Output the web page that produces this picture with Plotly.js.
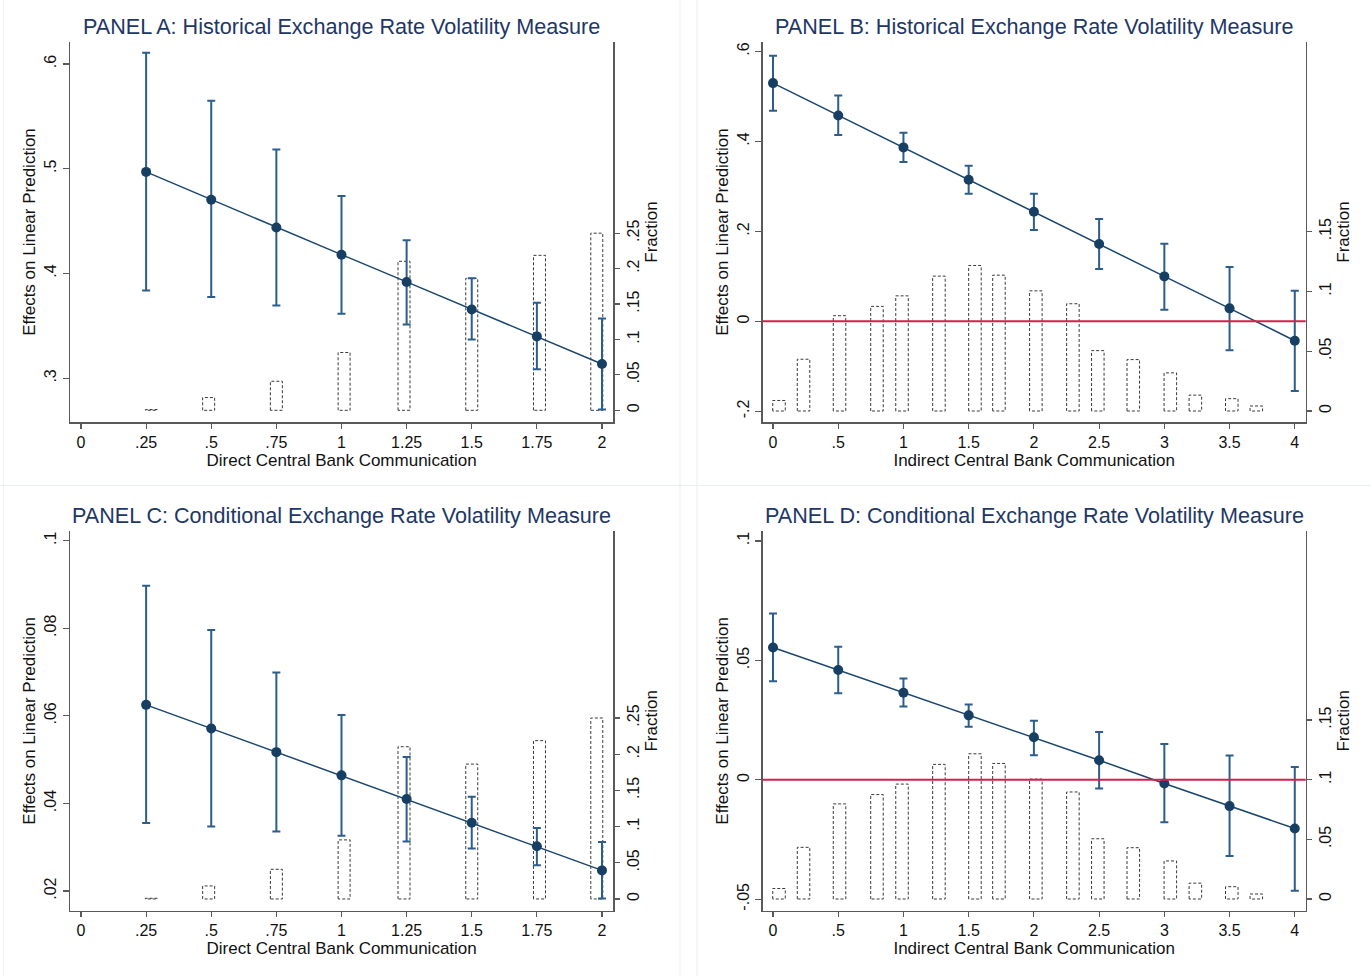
<!DOCTYPE html>
<html>
<head>
<meta charset="utf-8">
<script src="https://cdn.plot.ly/plotly-3.0.1.min.js"></script>
<style>html,body{margin:0;padding:0;background:#fff;}#chart{width:1371px;height:976px;}</style>
</head>
<body>
<div id="chart"></div>
<script>
// ---------- DATA ----------
// Direct central bank communication (Panels A & C)
const directX = [0.25, 0.5, 0.75, 1, 1.25, 1.5, 1.75, 2];
const panelA_effect = [0.497, 0.4705, 0.444, 0.418, 0.392, 0.3657, 0.340, 0.3137];
const panelA_lower  = [0.3838, 0.3775, 0.3695, 0.3616, 0.3514, 0.3371, 0.3086, 0.2702];
const panelA_upper  = [0.6108, 0.565, 0.5184, 0.474, 0.4317, 0.3956, 0.3721, 0.3571];
const panelC_effect = [0.0625, 0.0571, 0.0517, 0.0464, 0.041, 0.0356, 0.0302, 0.0247];
const panelC_lower  = [0.0355, 0.0347, 0.0336, 0.0326, 0.0313, 0.0297, 0.0259, 0.0183];
const panelC_upper  = [0.0897, 0.0796, 0.0699, 0.0602, 0.0506, 0.0415, 0.0344, 0.0312];
const directBins     = [0.27, 0.49, 0.75, 1.01, 1.24, 1.5, 1.76, 1.98];
const directFraction = [0.001, 0.018, 0.041, 0.0816, 0.2103, 0.1863, 0.2187, 0.25];

// Indirect central bank communication (Panels B & D)
const indirectX = [0, 0.5, 1, 1.5, 2, 2.5, 3, 3.5, 4];
const panelB_effect = [0.5296, 0.4578, 0.3867, 0.3147, 0.2436, 0.1718, 0.100, 0.0289, -0.043];
const panelB_lower  = [0.468, 0.414, 0.354, 0.2836, 0.2029, 0.1162, 0.0258, -0.0644, -0.1549];
const panelB_upper  = [0.5902, 0.5022, 0.419, 0.3458, 0.2836, 0.2273, 0.1724, 0.1207, 0.068];
const panelD_effect = [0.0554, 0.046, 0.0365, 0.027, 0.0178, 0.0082, -0.0015, -0.011, -0.0204];
const panelD_lower  = [0.0413, 0.0363, 0.0307, 0.0222, 0.0103, -0.0036, -0.0178, -0.0319, -0.0464];
const panelD_upper  = [0.0697, 0.0557, 0.0424, 0.0315, 0.0247, 0.020, 0.015, 0.0102, 0.0054];
const indirectBins     = [0.046, 0.234, 0.51, 0.797, 0.989, 1.272, 1.548, 1.732, 2.015, 2.299, 2.49, 2.762, 3.046, 3.238, 3.517, 3.705];
const indirectFraction = [0.0088, 0.0433, 0.0797, 0.0875, 0.0963, 0.1128, 0.1217, 0.1136, 0.1005, 0.0897, 0.0505, 0.043, 0.0319, 0.0133, 0.0103, 0.0042];

// Titles and tick labels
const titles = [
  "PANEL A: Historical Exchange Rate Volatility Measure",
  "PANEL B: Historical Exchange Rate Volatility Measure",
  "PANEL C: Conditional Exchange Rate Volatility Measure",
  "PANEL D: Conditional Exchange Rate Volatility Measure"
];
const directXTicks = [0, 0.25, 0.5, 0.75, 1, 1.25, 1.5, 1.75, 2];
const directXLabels = ["0", ".25", ".5", ".75", "1", "1.25", "1.5", "1.75", "2"];
const indirectXTicks = [0, 0.5, 1, 1.5, 2, 2.5, 3, 3.5, 4];
const indirectXLabels = ["0", ".5", "1", "1.5", "2", "2.5", "3", "3.5", "4"];
const yTicksA = [0.3, 0.4, 0.5, 0.6], yLabelsA = [".3", ".4", ".5", ".6"];
const yTicksB = [-0.2, 0, 0.2, 0.4, 0.6], yLabelsB = ["-.2", "0", ".2", ".4", ".6"];
const yTicksC = [0.02, 0.04, 0.06, 0.08, 0.1], yLabelsC = [".02", ".04", ".06", ".08", ".1"];
const yTicksD = [-0.05, 0, 0.05, 0.1], yLabelsD = ["-.05", "0", ".05", ".1"];
const fracTicksDirect = [0, 0.05, 0.1, 0.15, 0.2, 0.25], fracLabelsDirect = ["0", ".05", ".1", ".15", ".2", ".25"];
const fracTicksIndirect = [0, 0.05, 0.1, 0.15], fracLabelsIndirect = ["0", ".05", ".1", ".15"];
const xTitleDirect = "Direct Central Bank Communication";
const xTitleIndirect = "Indirect Central Bank Communication";
const yTitle = "Effects on Linear Prediction";
const fracTitle = "Fraction";

// ---------- STYLE ----------
const W = 1371, H = 976;
const FONT = "Liberation Sans, Arial, sans-serif";
const NAVY = "#1a476f";
const ERR = "#2c5d8c";
const AXIS = "#5a5a5a";
const TITLE_COL = "#1e3766";

// pixel geometry of plot areas
const px = {
  left:  [70, 613.3],
  right: [762.7, 1305.7],
  top:   [42, 422],
  bottom:[531, 910.7]
};
const dx = p => [p[0] / W, p[1] / W];
const dy = p => [1 - p[1] / H, 1 - p[0] / H];

function barOutline(centers, heights, width) {
  const xs = [], ys = [];
  centers.forEach((c, i) => {
    const h = heights[i];
    xs.push(c - width / 2, c - width / 2, c + width / 2, c + width / 2, c - width / 2, null);
    ys.push(0, h, h, 0, 0, null);
  });
  return {xs, ys};
}

const traces = [];
function addPanel(n, xs, eff, lo, hi, bins, frac, barW) {
  const xa = n === 1 ? "x" : "x" + n;
  const yf = "y" + (2 * n - 1 === 1 ? "" : 2 * n - 1);
  const yp = "y" + (2 * n);
  const b = barOutline(bins, frac, barW);
  traces.push({
    type: "scatter", mode: "lines", x: b.xs, y: b.ys, xaxis: xa, yaxis: yf,
    line: {color: "#3a3a3a", width: 1, dash: "3px,2px"}, hoverinfo: "skip", showlegend: false
  });
  traces.push({
    type: "scatter", mode: "lines", x: xs, y: eff, xaxis: xa, yaxis: yp,
    line: {color: NAVY, width: 1.5}, showlegend: false, hoverinfo: "skip"
  });
  traces.push({
    type: "scatter", mode: "markers", x: xs, y: eff, xaxis: xa, yaxis: yp,
    marker: {color: "#173f63", size: 10},
    error_y: {type: "data", symmetric: false,
      array: hi.map((v, i) => v - eff[i]),
      arrayminus: lo.map((v, i) => eff[i] - v),
      color: ERR, thickness: 2, width: 4},
    showlegend: false
  });
}
addPanel(1, directX, panelA_effect, panelA_lower, panelA_upper, directBins, directFraction, 0.046);
addPanel(2, indirectX, panelB_effect, panelB_lower, panelB_upper, indirectBins, indirectFraction, 0.096);
addPanel(3, directX, panelC_effect, panelC_lower, panelC_upper, directBins, directFraction, 0.046);
addPanel(4, indirectX, panelD_effect, panelD_lower, panelD_upper, indirectBins, indirectFraction, 0.096);

const tickFont = {family: FONT, size: 16, color: "#111"};
const titleFont = {family: FONT, size: 17, color: "#111"};
function xAxis(domain, anchor, range, tv, tt, title) {
  return {domain, anchor, range, tickvals: tv, ticktext: tt, showgrid: false, zeroline: false,
    showline: true, linecolor: AXIS, linewidth: 1.5, ticks: "outside", ticklen: 5, tickcolor: AXIS, tickwidth: 1.2,
    tickfont: tickFont, title: {text: title, font: titleFont, standoff: 0}, automargin: false, fixedrange: true};
}
function fracAxis(domain, anchor, range, tv, tt) {
  return {domain, anchor, side: "right", range, tickvals: tv, ticktext: tt, tickangle: -90,
    showgrid: false, zeroline: false, showline: true, linecolor: AXIS, linewidth: 1.5,
    ticks: "outside", ticklen: 5, tickcolor: AXIS, tickwidth: 1.2, tickfont: tickFont,
    title: {text: fracTitle, font: titleFont, standoff: 2}, automargin: false, fixedrange: true};
}
function predAxis(overlay, anchor, range, tv, tt) {
  return {overlaying: overlay, anchor, side: "left", range, tickvals: tv, ticktext: tt, tickangle: -90,
    showgrid: false, zeroline: false, showline: true, linecolor: AXIS, linewidth: 1.5,
    ticks: "outside", ticklen: 6, tickcolor: AXIS, tickwidth: 1.2, tickfont: tickFont,
    title: {text: yTitle, font: titleFont, standoff: 2}, automargin: false, fixedrange: true};
}

const layout = {
  width: W, height: H, margin: {l: 0, r: 0, t: 0, b: 0}, autosize: false,
  paper_bgcolor: "#fff", plot_bgcolor: "rgba(0,0,0,0)", showlegend: false,
  font: {family: FONT},
  xaxis:  xAxis(dx(px.left),  "y",  [-0.0422, 2.0434], directXTicks, directXLabels, xTitleDirect),
  yaxis:  fracAxis(dy(px.top), "x", [-0.0165, 0.5198], fracTicksDirect, fracLabelsDirect),
  yaxis2: predAxis("y", "x", [0.2583, 0.621], yTicksA, yLabelsA),
  xaxis2: xAxis(dx(px.right), "y3", [-0.079, 4.0837], indirectXTicks, indirectXLabels, xTitleIndirect),
  yaxis3: fracAxis(dy(px.top), "x2", [-0.0092, 0.3086], fracTicksIndirect, fracLabelsIndirect),
  yaxis4: predAxis("y3", "x2", [-0.2237, 0.621], yTicksB, yLabelsB),
  xaxis3: xAxis(dx(px.left),  "y5", [-0.0422, 2.0434], directXTicks, directXLabels, xTitleDirect),
  yaxis5: fracAxis(dy(px.bottom), "x3", [-0.0162, 0.5083], fracTicksDirect, fracLabelsDirect),
  yaxis6: predAxis("y5", "x3", [0.0155, 0.1022], yTicksC, yLabelsC),
  xaxis4: xAxis(dx(px.right), "y7", [-0.079, 4.0837], indirectXTicks, indirectXLabels, xTitleIndirect),
  yaxis7: fracAxis(dy(px.bottom), "x4", [-0.0098, 0.3084], fracTicksIndirect, fracLabelsIndirect),
  yaxis8: predAxis("y7", "x4", [-0.0548, 0.1042], yTicksD, yLabelsD),
  shapes: [
    {type: "line", xref: "x2 domain", x0: 0, x1: 1, yref: "y4", y0: 0, y1: 0, line: {color: "#d6204c", width: 2}, layer: "above"},
    {type: "line", xref: "x4 domain", x0: 0, x1: 1, yref: "y8", y0: 0, y1: 0, line: {color: "#d6204c", width: 2}, layer: "above"},
    {type: "line", xref: "paper", yref: "paper", x0: 680/W, x1: 680/W, y0: 0, y1: 1, line: {color: "#e9eff1", width: 1}, layer: "below"},
    {type: "line", xref: "paper", yref: "paper", x0: 697/W, x1: 697/W, y0: 0, y1: 1, line: {color: "#e9eff1", width: 1}, layer: "below"},
    {type: "line", xref: "paper", yref: "paper", x0: 3.5/W, x1: 3.5/W, y0: 0, y1: 1, line: {color: "#eef3f4", width: 1}, layer: "below"},
    {type: "line", xref: "paper", yref: "paper", x0: 0, x1: 1, y0: 1 - 485.5/H, y1: 1 - 485.5/H, line: {color: "#e9eff1", width: 1}, layer: "below"}
  ],
  annotations: [
    [titles[0], (70 + 613.3) / 2, 27], [titles[1], (762.7 + 1305.7) / 2, 27],
    [titles[2], (70 + 613.3) / 2, 515], [titles[3], (762.7 + 1305.7) / 2, 515]
  ].map(t => ({text: t[0], xref: "paper", yref: "paper", x: t[1] / W, y: 1 - t[2] / H,
    xanchor: "center", yanchor: "middle", showarrow: false,
    font: {family: FONT, size: 21.6, color: TITLE_COL}}))
};

Plotly.newPlot("chart", traces, layout, {displayModeBar: false, staticPlot: true});
</script>
</body>
</html>
